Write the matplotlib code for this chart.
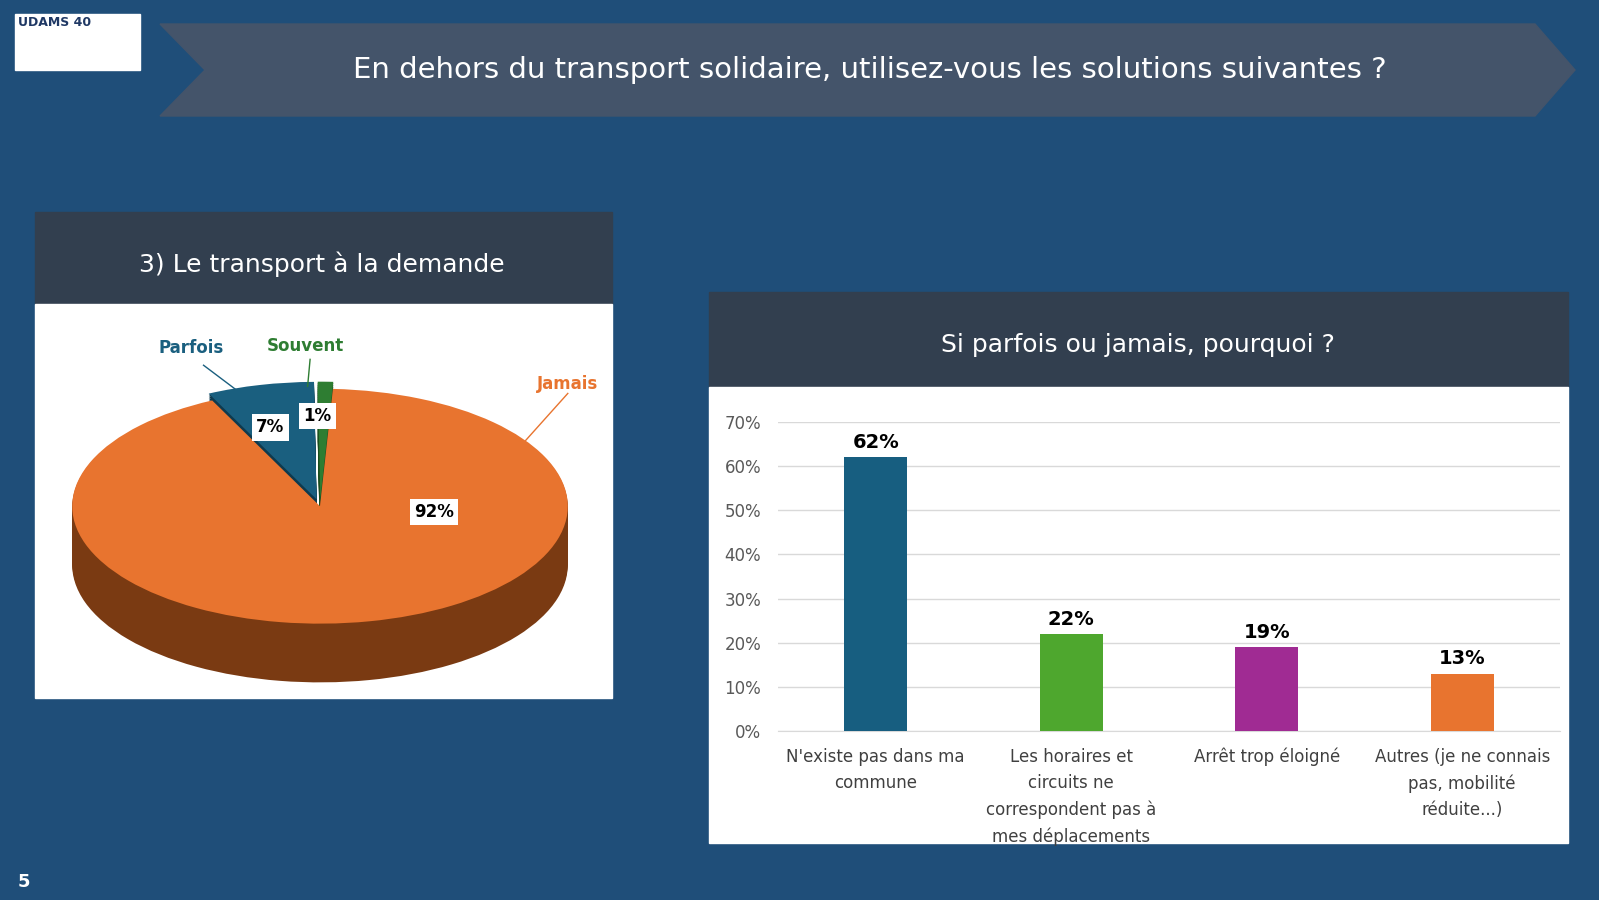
import numpy as np
import matplotlib.pyplot as plt
from matplotlib.patches import Polygon, Rectangle

##### Data #####
pie_labels = ['Souvent', 'Parfois', 'Jamais']
pie_values = [1, 7, 92]
pie_colors = ['#2E7D32', '#1A5F7F', '#E8742F']
pie_dark = ['#1B4D1E', '#0E3A4E', '#7A3A12']

bar_cats = ["N'existe pas dans ma\ncommune",
            "Les horaires et\ncircuits ne\ncorrespondent pas à\nmes déplacements",
            "Arrêt trop éloigné",
            "Autres (je ne connais\npas, mobilité\nréduite...)"]
bar_values = [62, 22, 19, 13]
bar_colors = ['#175E80', '#4EA72E', '#A02B93', '#E8742F']

W, H = 1599, 900
fig = plt.figure(figsize=(W / 100, H / 100), dpi=100, facecolor='#1F4E79')

def fr(x0, y0, x1, y1):
    # pixel box (top-left origin) -> figure fraction rect
    return [x0 / W, 1 - y1 / H, (x1 - x0) / W, (y1 - y0) / H]

bg = fig.add_axes([0, 0, 1, 1])
bg.set_xlim(0, W)
bg.set_ylim(H, 0)
bg.axis('off')

# title banner
bg.add_patch(Polygon([[160, 24], [1535, 24], [1575, 70], [1535, 116], [160, 116], [205, 70]],
                     closed=True, color='#44546A'))
bg.text(870, 70, 'En dehors du transport solidaire, utilisez-vous les solutions suivantes ?',
        color='white', fontsize=21, ha='center', va='center')
# logo
bg.add_patch(Rectangle((15, 14), 125, 56, color='white'))
bg.text(18, 22, 'UDAMS 40', fontsize=9, color='#1F3864', fontweight='bold', va='center')
bg.text(18, 900 - 18, '5', color='white', fontsize=13, fontweight='bold', va='center')

# left panel
bg.add_patch(Rectangle((35, 212), 577, 92, color='#323F4F'))
bg.add_patch(Rectangle((35, 304), 577, 394, color='white'))
bg.text(322, 264, '3) Le transport à la demande', color='white', fontsize=18,
        ha='center', va='center')

# right panel
bg.add_patch(Rectangle((709, 292), 859, 95, color='#323F4F'))
bg.add_patch(Rectangle((709, 387), 859, 456, color='white'))
bg.text(1138, 345, 'Si parfois ou jamais, pourquoi ?', color='white', fontsize=18,
        ha='center', va='center')

##### Pie (pseudo 3D) #####
pax = fig.add_axes(fr(40, 330, 600, 700))
pax.axis('off')
explode = [0.06, 0.06, 0]
depth = 0.5
for k in np.linspace(depth, 0.01, 30):
    pax.pie(pie_values, colors=pie_dark, startangle=87, counterclock=True,
            explode=explode, center=(0, -k), radius=1,
            wedgeprops=dict(linewidth=0))
pax.pie(pie_values, colors=pie_colors, startangle=87, counterclock=True,
        explode=explode, center=(0, 0), radius=1, wedgeprops=dict(linewidth=0))
pax.set_aspect('auto')
pax.set_xlim(-1.13, 1.13)
pax.set_ylim(-1.65, 1.5)

box = dict(facecolor='white', edgecolor='none', pad=3)
pax.text(0.46, -0.05, '92%', fontsize=12, fontweight='bold', ha='center', va='center', bbox=box)
pax.text(-0.2, 0.67, '7%', fontsize=12, fontweight='bold', ha='center', va='center', bbox=box)
pax.text(-0.01, 0.77, '1%', fontsize=12, fontweight='bold', ha='center', va='center', bbox=box)
pax.text(-0.52, 1.3, 'Parfois', color='#1A5F7F', fontsize=12, fontweight='bold', ha='center')
pax.text(-0.06, 1.32, 'Souvent', color='#2E7D32', fontsize=12, fontweight='bold', ha='center')
pax.text(1.0, 1.0, 'Jamais', color='#E8742F', fontsize=12, fontweight='bold', ha='center')
pax.plot([-0.47, -0.3], [1.2, 0.93], color='#1A5F7F', lw=1)
pax.plot([-0.04, -0.05], [1.25, 1.02], color='#2E7D32', lw=1)
pax.plot([1.0, 0.83], [0.96, 0.56], color='#E8742F', lw=1)

##### Bars #####
ax = fig.add_axes(fr(778, 422, 1560, 731))
x = np.arange(len(bar_values))
ax.bar(x, bar_values, width=0.32, color=bar_colors, zorder=3)
for xi, v in zip(x, bar_values):
    ax.text(xi, v + 1.2, f'{v}%', ha='center', va='bottom', fontsize=14, fontweight='bold')
ax.set_ylim(0, 70)
ax.set_xlim(-0.5, 3.5)
ax.set_yticks(range(0, 71, 10))
ax.set_yticklabels([f'{t}%' for t in range(0, 71, 10)], fontsize=12, color='#595959')
ax.set_xticks(x)
ax.set_xticklabels(bar_cats, fontsize=12, color='#404040', va='top', linespacing=1.6)
ax.grid(axis='y', color='#D9D9D9', lw=1, zorder=0)
for s in ['top', 'right', 'left']:
    ax.spines[s].set_visible(False)
ax.spines['bottom'].set_color('#D9D9D9')
ax.tick_params(length=0, pad=12)

fig.savefig('out.png', dpi=100, facecolor=fig.get_facecolor())
